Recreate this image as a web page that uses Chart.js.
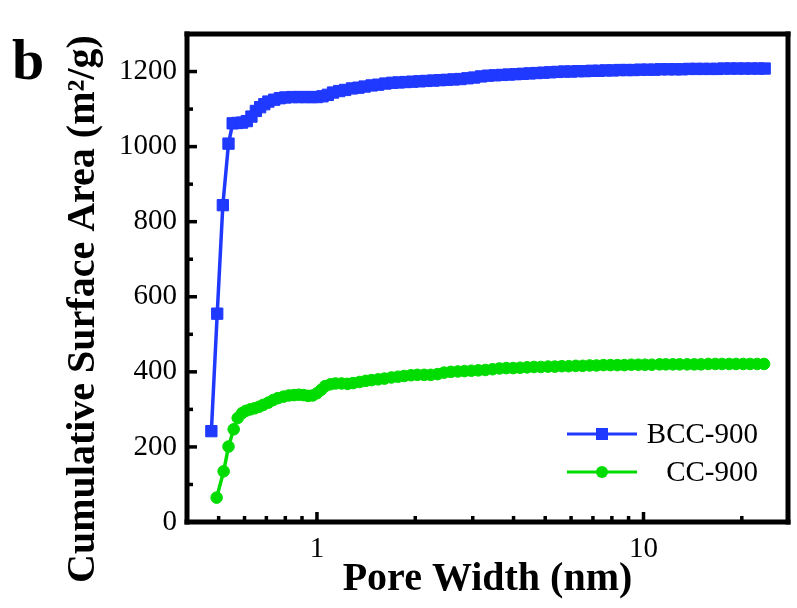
<!DOCTYPE html>
<html>
<head>
<meta charset="utf-8">
<script src="https://cdn.jsdelivr.net/npm/chart.js@4.4.1/dist/chart.umd.min.js"></script>
<style>
  html, body { margin: 0; padding: 0; background: #fff; }
</style>
</head>
<body>
<canvas id="chart" width="797" height="608"></canvas>
<script>
// pore width (nm) and cumulative surface area (m2/g)
const bccX = [0.475, 0.495, 0.515, 0.536, 0.552, 0.57, 0.59, 0.61, 0.63, 0.65, 0.67, 0.69, 0.71, 0.74, 0.77,
  0.80, 0.84, 0.88, 0.92, 0.96, 1.00, 1.04, 1.08, 1.12, 1.17, 1.22, 1.28, 1.34, 1.40, 1.47, 1.54, 1.62,
  1.70, 1.78, 1.87, 1.96, 2.06, 2.16, 2.27, 2.38, 2.50, 2.62, 2.75, 2.89, 3.03, 3.18, 3.34, 3.51, 3.69,
  3.87, 4.06, 4.27, 4.48, 4.70, 4.94, 5.18, 5.44, 5.72, 6.00, 6.30, 6.62, 6.95, 7.30, 7.66, 8.05, 8.45,
  8.87, 9.32, 9.78, 10.3, 10.8, 11.3, 11.9, 12.5, 13.1, 13.8, 14.5, 15.2, 16.0, 16.8, 17.6, 18.5, 19.4,
  20.4, 21.4, 22.5, 23.5];
const bccY = [242, 555, 844, 1008, 1062, 1063, 1064, 1068, 1080, 1095, 1105, 1113, 1120, 1125, 1129,
  1131, 1132, 1132, 1132, 1132, 1132, 1134, 1138, 1144, 1148, 1151, 1155, 1157, 1160, 1163, 1165, 1168,
  1170, 1171, 1172, 1173, 1174, 1175, 1176, 1177, 1178, 1179, 1180, 1182, 1184, 1187, 1189, 1190, 1191,
  1192, 1193, 1194, 1195, 1196, 1197, 1198, 1199, 1200, 1200, 1201, 1201, 1202, 1202, 1203, 1203, 1204,
  1204, 1204, 1205, 1205, 1205, 1206, 1206, 1206, 1206, 1207, 1207, 1207, 1207, 1207, 1208, 1208, 1208,
  1208, 1208, 1208, 1208];

const ccX = [0.493, 0.518, 0.536, 0.556, 0.572, 0.590, 0.605, 0.625, 0.645, 0.665, 0.685, 0.71, 0.735,
  0.76, 0.79, 0.82, 0.85, 0.88, 0.91, 0.94, 0.97, 1.00, 1.03, 1.06, 1.10, 1.14, 1.19, 1.24, 1.29, 1.35,
  1.41, 1.47, 1.54, 1.61, 1.69, 1.77, 1.85, 1.94, 2.03, 2.13, 2.23, 2.34, 2.45, 2.57, 2.70, 2.83, 2.97,
  3.12, 3.28, 3.45, 3.62, 3.80, 3.99, 4.19, 4.40, 4.62, 4.85, 5.10, 5.35, 5.62, 5.90, 6.20, 6.51, 6.84,
  7.18, 7.54, 7.92, 8.32, 8.74, 9.18, 9.64, 10.1, 10.6, 11.2, 11.7, 12.3, 12.9, 13.6, 14.3, 15.0, 15.8,
  16.6, 17.4, 18.3, 19.2, 20.2, 21.2, 22.3, 23.4];
const ccY = [65, 135, 201, 247, 277, 290, 296, 300, 303, 307, 312, 318, 325,
  330, 334, 337, 338, 339, 338, 336, 337, 343, 352, 362, 367, 369, 369, 368, 370, 373,
  376, 378, 380, 382, 385, 387, 389, 391, 392, 392, 392, 394, 398, 400, 401, 402, 403,
  404, 405, 407, 409, 410, 410, 411, 412, 413, 413, 414, 414, 415, 415, 416, 416, 417,
  417, 418, 418, 418, 418, 419, 419, 419, 419, 420, 420, 420, 420, 420, 420, 420, 421,
  421, 421, 421, 421, 421, 421, 421, 421];

const seriesNames = ['BCC-900', 'CC-900'];
const yMajorTicks = [0, 200, 400, 600, 800, 1000, 1200];
const yMinorTicks = [100, 300, 500, 700, 900, 1100];
const xMajorTicks = [1, 10];
const xMinorTicks = [0.5, 0.6, 0.7, 0.8, 0.9, 2, 3, 4, 5, 6, 7, 8, 9, 20];

const BLUE = '#2039ff';
const GREEN = '#00dc00';
const SERIF = '"Liberation Serif", "Times New Roman", serif';

function toPoints(xs, ys) {
  return xs.map((x, i) => ({ x: x, y: ys[i] }));
}

// frame, inward ticks, axis titles, panel letter and legend
const decorations = {
  id: 'decorations',
  afterDraw(chart) {
    const { ctx, chartArea: a, scales } = chart;
    const sx = scales.x, sy = scales.y;
    ctx.save();
    ctx.fillStyle = '#000';

    // ticks pointing into the plot
    const t = 3.5;
    yMajorTicks.forEach(v => { const y = sy.getPixelForValue(v); ctx.fillRect(a.left, y - t / 2, 10, t); });
    yMinorTicks.forEach(v => { const y = sy.getPixelForValue(v); ctx.fillRect(a.left, y - t / 2, 6, t); });
    xMajorTicks.forEach(v => { const x = sx.getPixelForValue(v); ctx.fillRect(x - t / 2, a.bottom - 10, t, 10); });
    xMinorTicks.forEach(v => { const x = sx.getPixelForValue(v); ctx.fillRect(x - t / 2, a.bottom - 6, t, 6); });

    // box
    const w = 5;
    ctx.fillRect(a.left - w / 2, a.top - w / 2, a.right - a.left + w, w);
    ctx.fillRect(a.left - w / 2, a.bottom - w / 2, a.right - a.left + w, w);
    ctx.fillRect(a.left - w / 2, a.top - w / 2, w, a.bottom - a.top + w);
    ctx.fillRect(a.right - w / 2, a.top - w / 2, w, a.bottom - a.top + w);

    ctx.font = 'bold 40px ' + SERIF;
    ctx.textAlign = 'center';
    ctx.textBaseline = 'middle';
    ctx.fillText('Pore Width (nm)', (a.left + a.right) / 2, 580);

    ctx.save();
    ctx.translate(84, 309);
    ctx.rotate(-Math.PI / 2);
    ctx.fillText('Cumulative Surface Area (m\u00b2/g)', 0, 0);
    ctx.restore();

    ctx.font = 'bold 58px ' + SERIF;
    ctx.textAlign = 'left';
    ctx.textBaseline = 'alphabetic';
    ctx.fillText('b', 12, 79);

    // legend
    const rows = [434, 472];
    chart.data.datasets.forEach((ds, i) => {
      const y = rows[i];
      ctx.fillStyle = ds.borderColor;
      ctx.fillRect(567, y - 1.5, 70, 3);
      if (ds.pointStyle === 'rect') {
        ctx.fillRect(596, y - 6, 12, 12);
      } else {
        ctx.beginPath();
        ctx.arc(602, y, 6, 0, Math.PI * 2);
        ctx.fill();
      }
      ctx.fillStyle = '#000';
      ctx.font = '29px ' + SERIF;
      ctx.textAlign = 'right';
      ctx.textBaseline = 'middle';
      ctx.fillText(ds.label, 758, y + 1);
    });
    ctx.restore();
  }
};

new Chart(document.getElementById('chart'), {
  type: 'line',
  data: {
    datasets: [{
      label: seriesNames[0],
      data: toPoints(bccX, bccY),
      borderColor: BLUE,
      backgroundColor: BLUE,
      borderWidth: 3.5,
      pointStyle: 'rect',
      pointRadius: 8,
      pointBorderWidth: 1,
      tension: 0
    }, {
      label: seriesNames[1],
      data: toPoints(ccX, ccY),
      borderColor: GREEN,
      backgroundColor: GREEN,
      borderWidth: 3.5,
      pointStyle: 'circle',
      pointRadius: 5.8,
      pointBorderWidth: 1,
      tension: 0
    }]
  },
  options: {
    responsive: false,
    animation: false,
    layout: { padding: { top: 34, right: 4, left: 0, bottom: 0 } },
    plugins: { legend: { display: false }, tooltip: { enabled: false } },
    scales: {
      x: {
        type: 'logarithmic',
        min: 0.4,
        max: 27.7,
        grid: { display: false, drawTicks: false },
        border: { display: false },
        afterBuildTicks: s => { s.ticks = xMajorTicks.map(v => ({ value: v })); },
        afterFit: s => { s.height = 86; s.paddingLeft = 0; s.paddingRight = 0; },
        ticks: {
          padding: 10,
          color: '#000',
          font: { family: SERIF, size: 29 },
          callback: v => String(v)
        }
      },
      y: {
        min: 0,
        max: 1300,
        grid: { display: false, drawTicks: false },
        border: { display: false },
        afterBuildTicks: s => { s.ticks = yMajorTicks.map(v => ({ value: v })); },
        afterFit: s => { s.width = 187; },
        ticks: {
          padding: 10,
          color: '#000',
          font: { family: SERIF, size: 29 },
          callback: v => String(v)
        }
      }
    }
  },
  plugins: [decorations]
});
</script>
</body>
</html>
